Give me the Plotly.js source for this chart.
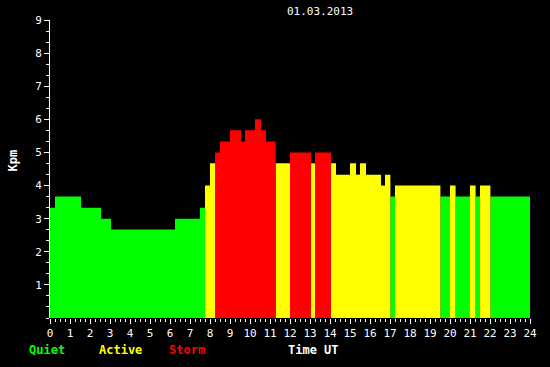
<!DOCTYPE html>
<html>
<head>
<meta charset="utf-8">
<script src="https://cdn.plot.ly/plotly-3.0.1.min.js"></script>
<style>html,body{margin:0;padding:0;background:#000;}#chart{width:550px;height:367px;}</style>
</head>
<body>
<div id="chart"></div>
<script>
// Segment start / end times (hours UT) and Kp values
const segStart = [0, 0.25, 1.55, 2.55, 3.05, 6.25, 7.5, 7.75, 8.0, 8.25, 8.5, 9.0, 9.55, 9.75, 10.25, 10.55, 10.8, 11.28, 12.0, 13.05, 13.25, 14.05, 14.3, 15.0, 15.3, 15.5, 15.8, 16.55, 16.75, 17.02, 17.25, 19.52, 20.0, 20.28, 21.0, 21.28, 21.5, 22.02];
const segEnd   = [0.25, 1.55, 2.55, 3.05, 6.25, 7.5, 7.75, 8.0, 8.25, 8.5, 9.0, 9.55, 9.75, 10.25, 10.55, 10.8, 11.28, 12.0, 13.05, 13.25, 14.05, 14.3, 15.0, 15.3, 15.5, 15.8, 16.55, 16.75, 17.02, 17.25, 19.52, 20.0, 20.28, 21.0, 21.28, 21.5, 22.02, 24.0];
const kpValues = [3.33, 3.67, 3.33, 3.0, 2.67, 3.0, 3.33, 4.0, 4.67, 5.0, 5.33, 5.67, 5.33, 5.67, 6.0, 5.67, 5.33, 4.67, 5.0, 4.67, 5.0, 4.67, 4.33, 4.67, 4.33, 4.67, 4.33, 4.0, 4.33, 3.67, 4.0, 3.67, 4.0, 3.67, 4.0, 3.67, 4.0, 3.67];
const xTickVals = [0,1,2,3,4,5,6,7,8,9,10,11,12,13,14,15,16,17,18,19,20,21,22,23,24];
const yTickVals = [1,2,3,4,5,6,7,8,9];
const classNames = ["Quiet", "Active", "Storm"];
const classColors = ["#00ff00", "#ffff00", "#ff0000"];
const titleText = "01.03.2013";
const xTitle = "Time UT";
const yTitle = "Kpm";

function classOf(v) { return v < 4 ? 0 : (v < 5 ? 1 : 2); }

const traces = classNames.map((name, c) => {
  const xs = [], ys = [], ws = [];
  kpValues.forEach((v, i) => {
    if (classOf(v) === c) {
      xs.push((segStart[i] + segEnd[i]) / 2);
      ws.push(segEnd[i] - segStart[i]);
      ys.push(v);
    }
  });
  return {
    type: 'bar', name: name, x: xs, y: ys, width: ws,
    marker: {color: classColors[c], line: {width: 0}},
    hoverinfo: 'skip', showlegend: false
  };
});

const font = {family: "DejaVu Sans Mono, Liberation Mono, monospace", size: 11, color: "#ffffff"};
const boldFont = (col) => ({family: "DejaVu Sans Mono, Liberation Mono, monospace", size: 12, color: col, weight: 'bold'});

const layout = {
  width: 550, height: 367,
  paper_bgcolor: "#000", plot_bgcolor: "#000",
  margin: {l: 50, r: 20, t: 20, b: 49, pad: 0},
  barmode: 'overlay',
  font: font,
  xaxis: {
    range: [0, 24], tickvals: xTickVals, ticks: 'outside', ticklen: 5, tickwidth: 1, tickcolor: '#fff',
    minor: {dtick: 0.25, ticks: 'outside', ticklen: 3, tickcolor: '#fff', showgrid: false},
    showgrid: false, zeroline: false, showline: false, tickfont: font, fixedrange: true
  },
  yaxis: {
    range: [0, 9], tickvals: yTickVals, ticks: 'outside', ticklen: 5, tickwidth: 1, tickcolor: '#fff',
    minor: {dtick: 1/3, tick0: 0, ticks: 'outside', ticklen: 3, tickcolor: '#fff', showgrid: false},
    showgrid: false, zeroline: false, showline: true, linecolor: '#fff', linewidth: 1,
    tickfont: font, fixedrange: true
  },
  annotations: [
    {text: titleText, xref: 'paper', yref: 'paper', x: 0.5625, y: 1.027, showarrow: false, font: font, xanchor: 'center', yanchor: 'middle'},
    {text: yTitle, xref: 'paper', yref: 'paper', x: -0.077, y: 0.529, textangle: -90, showarrow: false, font: boldFont('#fff'), xanchor: 'center', yanchor: 'middle'},
    {text: classNames[0], xref: 'paper', yref: 'paper', x: -0.006, y: -0.108, showarrow: false, font: boldFont(classColors[0]), xanchor: 'center', yanchor: 'middle'},
    {text: classNames[1], xref: 'paper', yref: 'paper', x: 0.146, y: -0.108, showarrow: false, font: boldFont(classColors[1]), xanchor: 'center', yanchor: 'middle'},
    {text: classNames[2], xref: 'paper', yref: 'paper', x: 0.285, y: -0.108, showarrow: false, font: boldFont(classColors[2]), xanchor: 'center', yanchor: 'middle'},
    {text: xTitle, xref: 'paper', yref: 'paper', x: 0.548, y: -0.108, showarrow: false, font: boldFont('#fff'), xanchor: 'center', yanchor: 'middle'}
  ]
};

Plotly.newPlot('chart', traces, layout, {staticPlot: true, displayModeBar: false});
</script>
</body>
</html>
